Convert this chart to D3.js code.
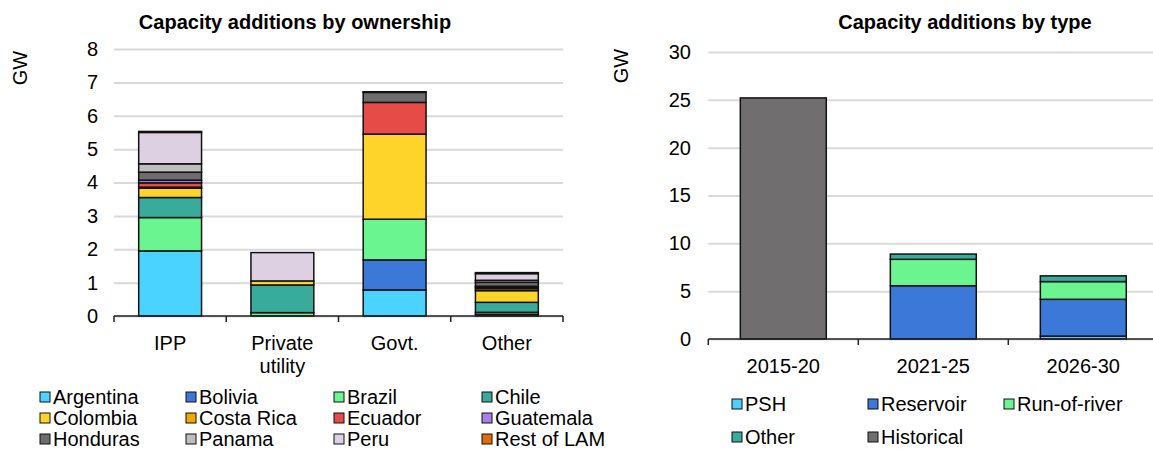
<!DOCTYPE html>
<html><head><meta charset="utf-8">
<script src="https://cdn.jsdelivr.net/npm/d3@7"></script>
<style>
body{margin:0;background:#fff;}
text{font-family:"Liberation Sans",Arial,sans-serif;fill:#000;}
</style></head>
<body><svg id="c" width="1153" height="449"></svg>
<script>
// ---- Left chart data: capacity additions by ownership (GW)
const ownerCats = ["IPP", "Private utility", "Govt.", "Other"];
const countries = ["Argentina","Bolivia","Brazil","Chile","Colombia","Costa Rica","Ecuador","Guatemala","Honduras","Panama","Peru","Rest of LAM"];
const argentina = [1.95, 0, 0.78, 0.05];
const bolivia   = [0, 0, 0.90, 0];
const brazil    = [1.00, 0.10, 1.22, 0.06];
const chile     = [0.60, 0.83, 0, 0.30];
const colombia  = [0.28, 0.12, 2.55, 0.35];
const costaRica = [0.03, 0, 0, 0.06];
const ecuador   = [0.13, 0, 0.95, 0.04];
const guatemala = [0.08, 0, 0, 0.03];
const honduras  = [0.24, 0, 0.30, 0.12];
const panama    = [0.25, 0, 0, 0.06];
const peru      = [0.94, 0.85, 0.02, 0.20];
const restLAM   = [0.03, 0, 0, 0.03];
const ownerTicks = [0,1,2,3,4,5,6,7,8];

// ---- Right chart data: capacity additions by type (GW)
const periodCats = ["2015-20", "2021-25", "2026-30"];
const types = ["PSH","Reservoir","Run-of-river","Other","Historical"];
const psh        = [0, 0, 0.30];
const reservoir  = [0, 5.57, 3.85];
const runOfRiver = [0, 2.76, 1.85];
const otherType  = [0, 0.55, 0.60];
const historical = [25.2, 0, 0];
const typeTicks = [0,5,10,15,20,25,30];

const countryColors = ["#4BD3FF","#3C78D8","#6AF590","#38AB9C","#FFD42A","#F0A800","#E64B47","#A87FE8","#6E6C6C","#BEBEBE","#DDD0E3","#E36C0A"];
const typeColors = ["#4BD3FF","#3C78D8","#6AF590","#38AB9C","#706E6E"];

const svg = d3.select("#c");
const FS = 20;

function buildRows(cats, keys, series){
  return cats.map((c,i)=>{ const o={cat:c}; keys.forEach((k,j)=>o[k]=series[j][i]); return o; });
}

function drawChart(opt){
  const g = svg.append("g");
  const x = d3.scaleBand().domain(opt.cats).range(opt.xr).paddingInner(opt.pad).paddingOuter(opt.pad/2);
  const y = d3.scaleLinear().domain([0, opt.ymax]).range(opt.yr);
  // gridlines
  g.append("g").attr("transform",`translate(${opt.xr[0]},0)`)
    .call(d3.axisLeft(y).tickValues(opt.ticks).tickSize(-(opt.gridEnd-opt.xr[0])).tickFormat(""))
    .call(a=>a.select(".domain").remove())
    .call(a=>a.selectAll("line").attr("stroke","#d9d9d9").attr("stroke-width",2));
  // y tick labels
  g.append("g").attr("transform",`translate(${opt.labelX},0)`)
    .call(d3.axisLeft(y).tickValues(opt.ticks).tickSize(0).tickPadding(0))
    .call(a=>a.select(".domain").remove())
    .call(a=>a.selectAll("text").attr("font-size",FS).attr("font-family","Liberation Sans, Arial, sans-serif").attr("fill","#000"));
  // bars
  const rows = buildRows(opt.cats, opt.keys, opt.series);
  const stack = d3.stack().keys(opt.keys)(rows);
  g.append("g").selectAll("g").data(stack).join("g")
    .attr("fill",(d,i)=>opt.colors[i])
    .selectAll("rect").data(d=>d.filter(s=>s[1]-s[0]>0)).join("rect")
    .attr("x",d=>x(d.data.cat)).attr("width",x.bandwidth())
    .attr("y",d=>y(d[1])).attr("height",d=>y(d[0])-y(d[1]))
    .attr("stroke","#111").attr("stroke-width",1.5);
  // x axis line & boundary ticks
  const y0 = y(0);
  g.append("line").attr("x1",opt.xr[0]).attr("x2",Math.min(opt.xr[1],1153)).attr("y1",y0).attr("y2",y0)
    .attr("stroke","#222").attr("stroke-width",1.5);
  const bounds = d3.range(opt.cats.length+1).map(i=>opt.xr[0]+i*x.step());
  g.append("g").selectAll("line").data(bounds).join("line")
    .attr("x1",d=>d).attr("x2",d=>d).attr("y1",y0).attr("y2",y0+6)
    .attr("stroke","#222").attr("stroke-width",1.5);
  // category labels
  const lab = g.append("g").selectAll("text").data(opt.cats).join("text")
    .attr("x",d=>x(d)+x.bandwidth()/2).attr("y",opt.catY).attr("text-anchor","middle").attr("font-size",FS);
  lab.each(function(d){
    const words = d.split(" ");
    const t = d3.select(this);
    words.forEach((w,i)=>t.append("tspan").attr("x",x(d)+x.bandwidth()/2).attr("dy",i?23:0).text(w));
  });
  // title
  g.append("text").attr("x",opt.titleX).attr("y",29).attr("text-anchor","middle")
    .attr("font-size",20).attr("font-weight","bold").text(opt.title);
  // GW label
  g.append("text").attr("transform",`translate(${opt.gwX},${opt.gwY}) rotate(-90)`)
    .attr("text-anchor","middle").attr("font-size",FS).text("GW");
  // legend
  const lg = g.append("g");
  opt.keys.forEach((k,i)=>{
    const col = i % opt.lcols, row = Math.floor(i/opt.lcols);
    const lx = opt.lx[col], ly = opt.ly[row];
    lg.append("rect").attr("x",lx).attr("y",ly-5).attr("width",10).attr("height",10)
      .attr("fill",opt.colors[i]).attr("stroke","#111").attr("stroke-width",1);
    lg.append("text").attr("x",lx+13).attr("y",ly).attr("dy","0.35em").attr("font-size",FS).text(k);
  });
}

drawChart({
  cats: ownerCats, keys: countries,
  series: [argentina,bolivia,brazil,chile,colombia,costaRica,ecuador,guatemala,honduras,panama,peru,restLAM],
  colors: countryColors, xr:[114,563], gridEnd:563, pad:0.44, ymax:8, yr:[316,49], ticks: ownerTicks,
  labelX: 98, catY: 350, title: "Capacity additions by ownership", titleX: 295, gwX: 27, gwY: 68,
  lcols: 4, lx:[40,186,334,482], ly:[397,418,439]
});

drawChart({
  cats: periodCats, keys: types,
  series: [psh,reservoir,runOfRiver,otherType,historical],
  colors: typeColors, xr:[708.3,1158.3], gridEnd:1153, pad:0.427, ymax:30, yr:[339,52], ticks: typeTicks,
  labelX: 691, catY: 373, title: "Capacity additions by type", titleX: 965, gwX: 628, gwY: 66,
  lcols: 3, lx:[732,868,1004], ly:[404,437]
});
</script></body></html>
